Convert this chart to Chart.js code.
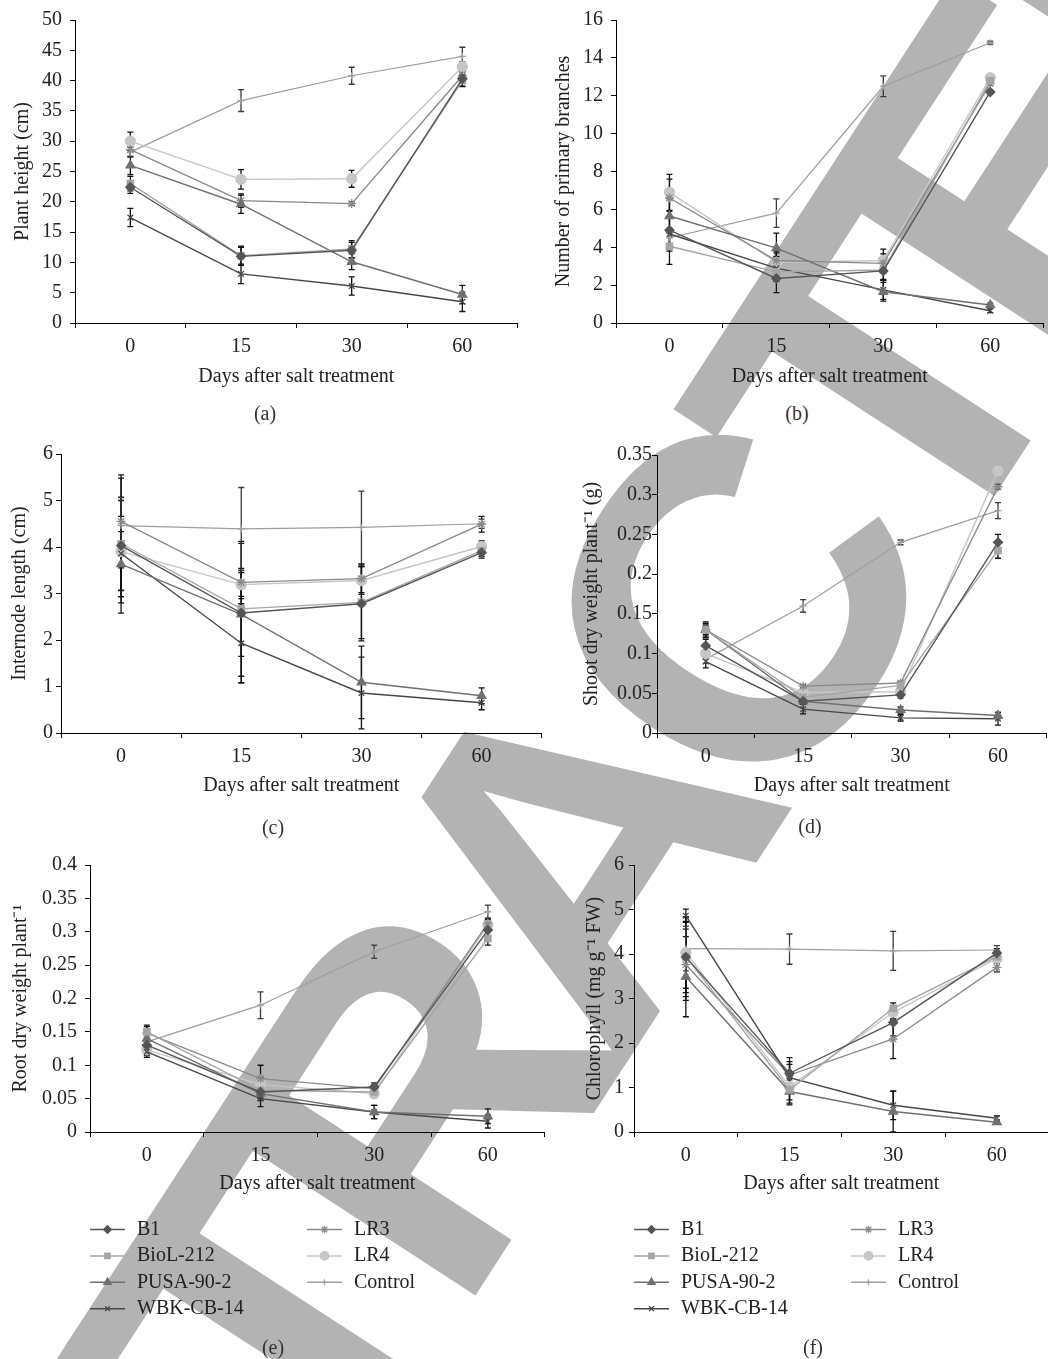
<!DOCTYPE html>
<html>
<head>
<meta charset="utf-8">
<script src="https://cdn.jsdelivr.net/npm/chart.js@4.4.1/dist/chart.umd.min.js"></script>
<style>
  html, body { margin: 0; padding: 0; background: #fff; }
  #page { position: relative; width: 1048px; height: 1359px; overflow: hidden; background: #fff; }
  #stamp {
    position: absolute; left: 564px; top: 867px;
    transform: translate(-50%, -50%) rotate(-57deg);
    font: bold 460px 'Liberation Sans', Arial, sans-serif;
    letter-spacing: -40px;
    line-height: 1; color: #b3b3b3; white-space: nowrap;
  }
  canvas { position: absolute; }
  .cap { position: absolute; font: 20px 'Liberation Serif', serif; color: #333; transform: translate(-50%, -50%); }
</style>
</head>
<body>
<div id="page">
  <div id="stamp">RETRACTED</div>
  <canvas id="chartA"></canvas>
  <canvas id="chartB"></canvas>
  <canvas id="chartC"></canvas>
  <canvas id="chartD"></canvas>
  <canvas id="chartE"></canvas>
  <canvas id="chartF"></canvas>
  <div class="cap" style="left:265px;top:413px">(a)</div>
  <div class="cap" style="left:797px;top:413px">(b)</div>
  <div class="cap" style="left:273px;top:827px">(c)</div>
  <div class="cap" style="left:810px;top:826px">(d)</div>
  <div class="cap" style="left:273px;top:1347px">(e)</div>
  <div class="cap" style="left:813px;top:1347px">(f)</div>
</div>
<script>
// days after salt treatment + strains (same order in every panel)
const days = ['0', '15', '30', '60'];
const strains = ['B1', 'BioL-212', 'PUSA-90-2', 'WBK-CB-14', 'LR3', 'LR4', 'Control'];

// (a) plant height, cm  -- rows follow strains
const plantHeight = [
  [22.4, 11.0, 12.0, 40.3],
  [23.0, 11.1, 12.2, 40.0],
  [26.0, 19.6, 10.1, 4.7],
  [17.4, 8.1, 6.1, 3.5],
  [28.6, 20.2, 19.7, 40.8],
  [30.0, 23.7, 23.8, 42.3],
  [28.2, 36.7, 40.8, 44.0]
];
const plantHeightErr = [
  [1.0, 1.5, 1.3, 1.2],
  [1.2, 1.6, 1.4, 1.0],
  [1.5, 1.5, 1.3, 1.5],
  [1.5, 1.6, 1.5, 1.6],
  [1.2, 1.1, 0.3, 1.0],
  [1.5, 1.6, 1.4, 0.8],
  [0.8, 1.8, 1.4, 1.5]
];

// (b) number of primary branches
const branches = [
  [4.9, 2.35, 2.75, 12.2],
  [4.05, 2.7, 2.8, 12.8],
  [5.65, 3.95, 1.65, 0.95],
  [4.7, 2.9, 1.75, 0.65],
  [6.6, 3.3, 3.15, 12.65],
  [6.9, 3.2, 3.3, 12.95],
  [4.5, 5.8, 12.5, 14.8]
];
const branchesErr = [
  [1.0, 0.75, 0.5, 0.1],
  [0.95, 0.5, 0.5, 0.1],
  [0.9, 0.8, 0.5, 0.1],
  [0.9, 0.6, 0.5, 0.1],
  [1.0, 0.5, 0.5, 0.1],
  [0.95, 0.5, 0.6, 0.1],
  [0.5, 0.75, 0.55, 0.08]
];

// (c) internode length, cm
const internode = [
  [4.03, 2.58, 2.78, 3.88],
  [4.07, 2.67, 2.81, 3.92],
  [3.63, 2.55, 1.09, 0.8],
  [3.86, 1.93, 0.86, 0.65],
  [4.55, 3.24, 3.32, 4.49],
  [3.9, 3.19, 3.28, 4.01],
  [4.46, 4.39, 4.42, 4.5]
];
const internodeErr = [
  [1.45, 1.5, 0.8, 0.12],
  [1.0, 1.45, 0.78, 0.12],
  [0.7, 0.9, 0.78, 0.17],
  [0.8, 0.85, 0.77, 0.15],
  [1.0, 0.3, 0.3, 0.17],
  [1.1, 0.3, 0.3, 0.12],
  [0.6, 0.89, 0.78, 0.1]
];

// (d) shoot dry weight per plant, g
const shootDry = [
  [0.11, 0.04, 0.048, 0.24],
  [0.13, 0.045, 0.06, 0.23],
  [0.13, 0.04, 0.029, 0.022],
  [0.09, 0.03, 0.019, 0.018],
  [0.13, 0.059, 0.063, 0.31],
  [0.10, 0.051, 0.052, 0.33],
  [0.093, 0.16, 0.24, 0.28]
];
const shootDryErr = [
  [0.008, 0.004, 0.004, 0.01],
  [0.01, 0.004, 0.004, 0.01],
  [0.008, 0.004, 0.004, 0.004],
  [0.008, 0.006, 0.004, 0.008],
  [0.006, 0.002, 0.002, 0.003],
  [0.005, 0.002, 0.002, 0.003],
  [0.005, 0.008, 0.003, 0.01]
];

// (e) root dry weight per plant
const rootDry = [
  [0.13, 0.06, 0.0675, 0.3025],
  [0.15, 0.0625, 0.06, 0.29],
  [0.14, 0.0575, 0.03, 0.0235],
  [0.12, 0.05, 0.03, 0.016],
  [0.148, 0.08, 0.065, 0.3125],
  [0.123, 0.071, 0.0575, 0.31],
  [0.135, 0.19, 0.27, 0.33]
];
const rootDryErr = [
  [0.01, 0.01, 0.006, 0.01],
  [0.01, 0.01, 0.006, 0.01],
  [0.01, 0.01, 0.01, 0.011],
  [0.008, 0.012, 0.01, 0.01],
  [0.01, 0.02, 0.006, 0.008],
  [0.008, 0.01, 0.006, 0.008],
  [0.01, 0.02, 0.01, 0.01]
];

// (f) chlorophyll, mg g-1 FW
const chlorophyll = [
  [3.93, 1.32, 2.46, 4.02],
  [3.94, 0.95, 2.78, 3.94],
  [3.49, 0.91, 0.46, 0.22],
  [4.86, 1.22, 0.6, 0.31],
  [3.76, 1.28, 2.09, 3.7],
  [4.03, 1.02, 2.69, 3.9],
  [4.12, 4.11, 4.07, 4.09]
];
const chlorophyllErr = [
  [0.8, 0.35, 0.3, 0.1],
  [0.9, 0.3, 0.12, 0.1],
  [0.9, 0.3, 0.46, 0.05],
  [0.15, 0.3, 0.32, 0.05],
  [0.8, 0.3, 0.44, 0.1],
  [0.8, 0.3, 0.15, 0.1],
  [0.5, 0.34, 0.44, 0.1]
];

// y axis: [max, step]
const heightAxis = [50, 5];
const branchAxis = [16, 2];
const internodeAxis = [6, 1];
const shootAxis = [0.35, 0.05];
const rootAxis = [0.4, 0.05];
const chloroAxis = [6, 1];

const serif = "'Liberation Serif', 'Times New Roman', serif";
const textColor = '#222';

const looks = [
  { color: '#555555', point: 'rectRot', r: 4.5 },
  { color: '#a5a5a5', point: 'rect', r: 4.5 },
  { color: '#707070', point: 'triangle', r: 5 },
  { color: '#474747', point: 'crossRot', r: 4 },
  { color: '#8a8a8a', point: 'star', r: 4.5 },
  { color: '#c6c6c6', point: 'circle', r: 5 },
  { color: '#9e9e9e', point: 'cross', r: 3.5 }
];

// error bars, drawn through the y scale
const errorBars = {
  id: 'errorBars',
  beforeDatasetsDraw(chart, args, opts) {
    const { ctx } = chart;
    const y = chart.scales.y;
    ctx.save();
    ctx.lineWidth = 1.3;
    opts.errors.forEach((errs, i) => {
      const meta = chart.getDatasetMeta(i);
      ctx.strokeStyle = i === 6 ? '#3a3a3a' : '#111';
      errs.forEach((e, j) => {
        if (!e) return;
        const v = chart.data.datasets[i].data[j];
        const x = meta.data[j].x;
        const y1 = y.getPixelForValue(v + e);
        const y2 = y.getPixelForValue(Math.max(v - e, 0));
        ctx.beginPath();
        ctx.moveTo(x, y1); ctx.lineTo(x, y2);
        ctx.moveTo(x - 3, y1); ctx.lineTo(x + 3, y1);
        ctx.moveTo(x - 3, y2); ctx.lineTo(x + 3, y2);
        ctx.stroke();
      });
    });
    ctx.restore();
  }
};

// two column legend under panels e and f
const sideLegend = {
  id: 'sideLegend',
  afterDraw(chart, args, opts) {
    if (!opts.show) return;
    const { ctx, chartArea } = chart;
    chart.data.datasets.forEach((ds, i) => {
      const col = i < 4 ? 0 : 1;
      const row = i < 4 ? i : i - 4;
      const x0 = chartArea.left + col * 217;
      const yy = chartArea.bottom + 97.5 + row * 26.4;
      ctx.save();
      ctx.strokeStyle = ds.borderColor;
      ctx.lineWidth = 1.5;
      ctx.beginPath(); ctx.moveTo(x0, yy); ctx.lineTo(x0 + 35, yy); ctx.stroke();
      ctx.fillStyle = ds.pointBackgroundColor;
      ctx.strokeStyle = ds.pointBorderColor;
      ctx.lineWidth = ds.pointBorderWidth;
      Chart.helpers.drawPoint(ctx, { pointStyle: ds.pointStyle, radius: ds.pointRadius * 0.85, borderWidth: ds.pointBorderWidth, rotation: 0 }, x0 + 17.5, yy);
      ctx.fillStyle = textColor;
      ctx.font = '20px ' + serif;
      ctx.textBaseline = 'middle';
      ctx.textAlign = 'left';
      ctx.fillText(ds.label, x0 + 47, yy);
      ctx.restore();
    });
  }
};

function drawPanel(id, box, values, errors, axis, yTitle, withLegend) {
  const canvas = document.getElementById(id);
  const left = Math.round(box.titleX - 16);
  const top = Math.round(box.top) - 30;
  const xAxisH = 70;
  const legendH = withLegend ? 150 : 0;
  const yW = box.left - left;
  canvas.width = Math.round(box.right - left);
  canvas.height = Math.round(box.bottom - top + xAxisH + legendH);
  canvas.style.left = left + 'px';
  canvas.style.top = top + 'px';

  const datasets = strains.map((name, i) => ({
    label: name,
    data: values[i],
    borderColor: looks[i].color,
    backgroundColor: looks[i].color,
    pointBackgroundColor: looks[i].color,
    pointBorderColor: looks[i].color,
    pointStyle: looks[i].point,
    pointRadius: looks[i].r,
    pointBorderWidth: 1.3,
    borderWidth: i === 6 ? 1.2 : 1.4,
    tension: 0,
    fill: false
  }));

  new Chart(canvas, {
    type: 'line',
    data: { labels: days, datasets: datasets },
    options: {
      responsive: false,
      animation: false,
      events: [],
      layout: { padding: { top: 30, left: 0, right: 0, bottom: legendH } },
      plugins: {
        legend: { display: false },
        tooltip: { enabled: false },
        errorBars: { errors: errors },
        sideLegend: { show: withLegend }
      },
      scales: {
        x: {
          offset: true,
          afterFit: s => { s.height = xAxisH; },
          ticks: { padding: 7, color: textColor, font: { family: serif, size: 20 } },
          grid: { offset: true, drawOnChartArea: false, drawTicks: true, tickLength: 5, color: '#000', tickColor: '#000' },
          border: { display: true, color: '#000', width: 1 },
          title: {
            display: true, text: 'Days after salt treatment', color: textColor,
            font: { family: serif, size: 20 }, padding: { top: 0, bottom: xAxisH - 14 - box.xTitle }
          }
        },
        y: {
          min: 0,
          max: axis[0],
          afterFit: s => { s.width = yW; },
          ticks: {
            stepSize: axis[1], padding: box.tickPad, color: textColor,
            font: { family: serif, size: 20 },
            callback: v => String(+v.toFixed(2))
          },
          grid: { drawOnChartArea: false, drawTicks: true, tickLength: 5, color: '#000', tickColor: '#000' },
          border: { display: true, color: '#000', width: 1 },
          title: {
            display: true, text: yTitle, color: textColor,
            font: { family: serif, size: 20 }, padding: { top: 4, bottom: 0 }
          }
        }
      }
    },
    plugins: [errorBars, sideLegend]
  });
}

drawPanel('chartA', { left: 75, top: 20, right: 524, bottom: 323.3, titleX: 22.5, tickPad: 8, xTitle: 52 },
  plantHeight, plantHeightErr, heightAxis, 'Plant height (cm)', false);
drawPanel('chartB', { left: 616, top: 20, right: 1050, bottom: 323.3, titleX: 564, tickPad: 8, xTitle: 52 },
  branches, branchesErr, branchAxis, 'Number of primary branches', false);
drawPanel('chartC', { left: 61, top: 454.3, right: 548, bottom: 733.3, titleX: 19.5, tickPad: 3, xTitle: 51 },
  internode, internodeErr, internodeAxis, 'Internode length (cm)', false);
drawPanel('chartD', { left: 657, top: 455, right: 1053, bottom: 733.3, titleX: 592, tickPad: 0, xTitle: 51 },
  shootDry, shootDryErr, shootAxis, 'Shoot dry weight plant\u207B\u00B9 (g)', false);
drawPanel('chartE', { left: 90, top: 865, right: 551, bottom: 1131.7, titleX: 20.5, tickPad: 8, xTitle: 50 },
  rootDry, rootDryErr, rootAxis, 'Root dry weight plant\u207B\u00B9', true);
drawPanel('chartF', { left: 634, top: 865, right: 1055, bottom: 1132.3, titleX: 594.5, tickPad: 5, xTitle: 50 },
  chlorophyll, chlorophyllErr, chloroAxis, 'Chlorophyll (mg g\u207B\u00B9 FW)', true);
</script>
</body>
</html>
